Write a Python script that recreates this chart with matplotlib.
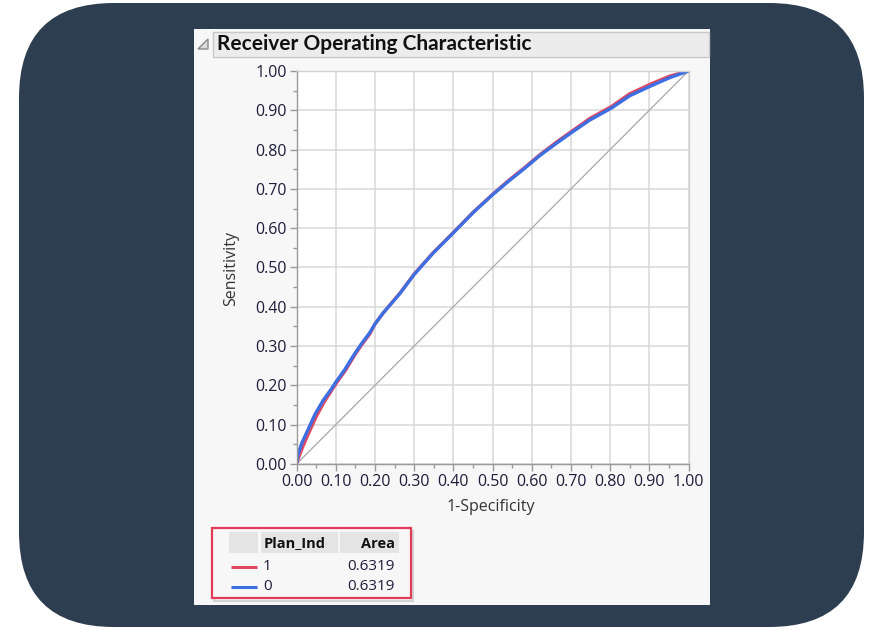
import matplotlib
matplotlib.use("Agg")
import matplotlib.pyplot as plt
from matplotlib.patches import FancyBboxPatch, Rectangle, Polygon
from matplotlib.ticker import MultipleLocator, FormatStrFormatter

# ROC curve points (1-Specificity, Sensitivity)
fpr_0 = [0.000, 0.004, 0.013, 0.025, 0.047, 0.068, 0.089, 0.100, 0.123, 0.148,
         0.165, 0.186, 0.200, 0.220, 0.246, 0.264, 0.300, 0.348, 0.400, 0.451,
         0.500, 0.544, 0.578, 0.621, 0.663, 0.704, 0.748, 0.804, 0.850, 0.904,
         0.952, 1.000]
tpr_0 = [0.000, 0.024, 0.052, 0.078, 0.126, 0.162, 0.191, 0.208, 0.240, 0.280,
         0.305, 0.333, 0.356, 0.383, 0.413, 0.434, 0.482, 0.536, 0.588, 0.640,
         0.685, 0.722, 0.749, 0.785, 0.816, 0.845, 0.875, 0.906, 0.937, 0.962,
         0.983, 1.000]
fpr_1 = [0.000, 0.006, 0.016, 0.028, 0.050, 0.070, 0.090, 0.101, 0.124, 0.149,
         0.166, 0.187, 0.200, 0.221, 0.246, 0.264, 0.300, 0.348, 0.400, 0.451,
         0.500, 0.544, 0.578, 0.621, 0.663, 0.704, 0.748, 0.804, 0.850, 0.904,
         0.952, 1.000]
tpr_1 = [0.000, 0.018, 0.044, 0.072, 0.120, 0.157, 0.188, 0.205, 0.237, 0.278,
         0.303, 0.331, 0.356, 0.384, 0.414, 0.435, 0.483, 0.537, 0.589, 0.641,
         0.686, 0.724, 0.751, 0.787, 0.819, 0.848, 0.879, 0.910, 0.942, 0.967,
         0.987, 1.000]

group_labels = ["1", "0"]
areas = [0.6319, 0.6319]
title_text = "Receiver Operating Characteristic"
x_label = "1-Specificity"
y_label = "Sensitivity"
legend_col = "Plan_Ind"
area_col = "Area"

RED = "#e0485f"
BLUE = "#3d6fe3"
NAVY = "#2d3e50"
TXT = "#1e1e3c"
FONT = "Open Sans"

W, H = 871, 628
fig = plt.figure(figsize=(W / 100, H / 100), dpi=100, facecolor="white")

# background layer in pixel coordinates
bg = fig.add_axes([0, 0, 1, 1], zorder=0)
bg.set_xlim(0, W)
bg.set_ylim(H, 0)
bg.axis("off")

bg.add_patch(FancyBboxPatch((19, 3), 845, 624, boxstyle="round,pad=0,rounding_size=95",
                            fc=NAVY, ec="none"))
bg.add_patch(Rectangle((194, 29), 516, 576, fc="#f7f7f7", ec="none"))
# title bar
bg.add_patch(Rectangle((213, 32), 496, 25, fc="#ececec", ec="#c9c9c9", lw=1))
bg.add_patch(Polygon([[198, 49], [208, 39], [208, 49]], closed=True, fc="#dcdcdc",
                     ec="#8a8a8a", lw=1))
bg.text(217, 44.5, title_text, fontsize=15, fontweight="bold", family="Lato",
        color="#111111", va="center", ha="left")

# axis titles
bg.text(491, 507, x_label, fontsize=11.5, family=FONT, color="#333333",
        ha="center", va="center")
bg.text(231, 268, y_label, fontsize=11.5, family=FONT, color="#333333",
        ha="center", va="center", rotation=90)

# legend table
bg.add_patch(Rectangle((214, 531), 199, 70, fc="none", ec="#bbbbbb", lw=1.5, alpha=0.6))
bg.add_patch(Rectangle((212, 528), 199, 70, fc="#f7f7f7", ec="#e03c58", lw=1.6))
bg.add_patch(Rectangle((229, 532), 29, 21, fc="#e4e4e4", ec="none"))
bg.add_patch(Rectangle((261, 532), 77, 21, fc="#e4e4e4", ec="none"))
bg.add_patch(Rectangle((340, 532), 59, 21, fc="#e4e4e4", ec="none"))
bg.text(264, 543.5, legend_col, fontsize=10.5, fontweight="bold", family=FONT,
        color="#111111", ha="left", va="center")
bg.text(395, 543.5, area_col, fontsize=10.5, fontweight="bold", family=FONT,
        color="#111111", ha="right", va="center")
row_y = [567, 587]
for lab, area, color, yy in zip(group_labels, areas, [RED, BLUE], row_y):
    bg.plot([231, 257], [yy, yy], color=color, lw=2.2, solid_capstyle="butt")
    bg.text(263, yy, lab, fontsize=11, family=FONT, color=TXT, ha="left", va="center")
    bg.text(395, yy, f"{area:.4f}", fontsize=11, family=FONT, color=TXT,
            ha="right", va="center")

# ROC plot
x0, x1, y0, y1 = 296.5, 688.5, 464, 71
ax = fig.add_axes([x0 / W, (H - y0) / H, (x1 - x0) / W, (y0 - y1) / H], zorder=1)
ax.set_facecolor("white")
ax.set_xlim(0, 1)
ax.set_ylim(0, 1)
ax.xaxis.set_major_locator(MultipleLocator(0.1))
ax.yaxis.set_major_locator(MultipleLocator(0.1))
ax.xaxis.set_minor_locator(MultipleLocator(0.05))
ax.yaxis.set_minor_locator(MultipleLocator(0.05))
ax.xaxis.set_major_formatter(FormatStrFormatter("%.2f"))
ax.yaxis.set_major_formatter(FormatStrFormatter("%.2f"))
ax.grid(True, which="major", color="#d9d9d9", lw=1.1)
ax.set_axisbelow(True)
for side in ["top", "right"]:
    ax.spines[side].set_color("#d0d0d0")
    ax.spines[side].set_linewidth(1.0)
for side in ["left", "bottom"]:
    ax.spines[side].set_color("#9a9a9a")
    ax.spines[side].set_linewidth(1.0)
ax.tick_params(which="major", length=5, width=1, color="#9a9a9a", direction="out",
               labelsize=11.5, labelcolor=TXT, pad=2)
ax.tick_params(which="minor", length=3, width=1, color="#9a9a9a", direction="out")
for lbl in ax.get_xticklabels() + ax.get_yticklabels():
    lbl.set_family(FONT)

ax.plot([0, 1], [0, 1], color="#a8a8a8", lw=0.9)
ax.plot(fpr_1, tpr_1, color=RED, lw=2.4, solid_joinstyle="round")
ax.plot(fpr_0, tpr_0, color=BLUE, lw=2.4, solid_joinstyle="round")

fig.savefig("out.png", dpi=100, facecolor="white")
